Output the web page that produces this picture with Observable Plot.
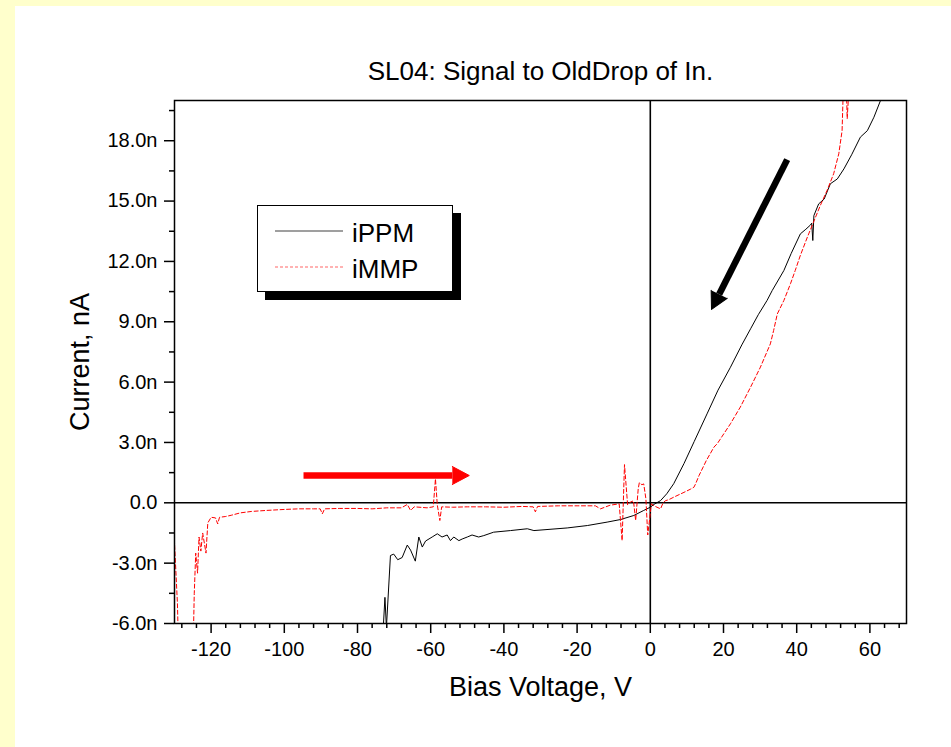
<!DOCTYPE html>
<html>
<head>
<meta charset="utf-8">
<script src="https://cdn.jsdelivr.net/npm/d3@7"></script>
<script src="https://cdn.jsdelivr.net/npm/@observablehq/plot@0.6"></script>
<style>
html, body { margin: 0; padding: 0; background: #FFFFCC; overflow: hidden; }
#page { position: absolute; left: 15px; top: 6px; width: 936px; height: 741px; background: #ffffff; }
#chart { position: absolute; left: 0; top: 0; }
#legend { position: absolute; left: 257px; top: 205px; width: 196px; height: 87px; box-sizing: border-box;
  border: 1px solid #000; background: #fff; box-shadow: 8px 8px 0 #000; }
#legend svg { position: absolute; left: 0; top: 0; }
</style>
</head>
<body>
<div id="page"></div>
<div id="chart"></div>
<div id="legend"></div>
<script>
// ---- text ----
const title = "SL04: Signal to OldDrop of In.";
const xLabel = "Bias Voltage, V";
const yLabel = "Current, nA";
const seriesNames = ["iPPM", "iMMP"];
const seriesColors = ["#000000", "#ff0000"];

// ---- ticks ----
const xTicks = [-120, -100, -80, -60, -40, -20, 0, 20, 40, 60];
const xTickLabels = ["-120", "-100", "-80", "-60", "-40", "-20", "0", "20", "40", "60"];
const xMinorTicks = [-128, -124, -116, -112, -108, -104, -96, -92, -88, -84, -76, -72, -68, -64, -56, -52, -48, -44,
  -36, -32, -28, -24, -16, -12, -8, -4, 4, 8, 12, 16, 24, 28, 32, 36, 44, 48, 52, 56, 64, 68];
const yTicks = [-6, -3, 0, 3, 6, 9, 12, 15, 18];
const yTickLabels = ["-6.0n", "-3.0n", "0.0", "3.0n", "6.0n", "9.0n", "12.0n", "15.0n", "18.0n"];
const yMinorTicks = [-4.5, -1.5, 1.5, 4.5, 7.5, 10.5, 13.5, 16.5, 19.5];

// ---- series: iPPM (black solid) ----
const iPPM_V = [-73.5, -72.5, -72.1, -71.0, -70.1, -69.0, -67.8, -66.4, -65.5, -64.2, -63.25, -62.3, -61.4, -59.6,
  -58.2, -56.9, -55.5, -54.6, -53.7, -52.3, -51.4, -50.0, -48.7, -46.9, -45.5, -42.8, -38.2, -33.6, -31.8, -22.7,
  -17.2, -11.8, -8.1, -4.5, -1.8, 0.0, 1.0, 2.8, 4.5, 6.4, 9.2, 12.0, 15.5, 18.5, 21.9, 25.0, 27.4, 29.5, 31.9,
  33.3, 36.5, 38.5, 41.0, 42.5, 43.7, 44.1, 44.4, 44.7, 46.0, 47.5, 49.2, 51.1, 52.9, 55.0, 57.4, 59.3, 61.1, 62.9, 65.0];
const iPPM_I = [-8.0, -4.7, -6.2, -2.62, -2.55, -2.83, -2.72, -2.1, -2.35, -2.9, -1.7, -2.2, -1.9, -1.7,
  -1.54, -1.7, -1.6, -1.88, -1.7, -1.88, -1.8, -1.7, -1.6, -1.7, -1.63, -1.46, -1.38, -1.29, -1.38, -1.25,
  -1.13, -0.96, -0.83, -0.63, -0.38, -0.22, -0.08, 0.11, 0.45, 0.95, 1.95, 3.05, 4.42, 5.6, 6.74, 7.85, 8.65, 9.35, 10.06,
  10.55, 11.55, 12.4, 13.37, 13.6, 13.8, 13.9, 13.04, 14.28, 14.86, 15.1, 15.86, 16.1, 16.6, 17.3, 18.18, 18.5, 19.17, 20.0, 20.8];

// ---- series: iMMP (red dashed) ----
const iMMP_V = [-131, -130, -129.2, -128.8, -125, -124.6, -124.2, -123.7, -123.3, -122.8, -122.3, -121.4, -120.9, -120,
  -118.8, -118.2, -117.7, -116, -114.5, -112, -109, -105, -100, -96, -92, -90.2, -89.6, -89, -85, -80, -76, -72, -68,
  -66.4, -65.5, -64.5, -61, -59.3, -58.7, -58.2, -57.5, -57, -54, -50, -45, -40, -35, -32, -31.4, -30.8, -25, -20,
  -15, -13.6, -11, -8.5, -7.7, -7.05, -6.2, -5.5, -4.6, -4.0, -3.3, -3.0, -2.3, -1.8, -1.2, -0.7, -0.3, 0.3, 1.0,
  2.8, 3.5, 4.2, 5.0, 6.4, 9.2, 11.0, 11.9, 12.4, 13.3, 15.3, 17.4, 18.3, 21.9, 24.6, 27.4, 30.1, 32.8, 33.7, 34.7,
  36.5, 38.3, 39.6, 41.0, 42.9, 44.7, 46.5, 48.3, 50.1, 51.5, 52.4, 52.8, 53.5, 53.8, 54.4, 55.0];
const iMMP_I = [-1.5, -2.0, -5.0, -8.0, -8.0, -4.5, -2.5, -3.5, -1.7, -2.4, -1.5, -2.5, -1.0, -0.72,
  -0.75, -1.05, -0.72, -0.68, -0.62, -0.5, -0.43, -0.38, -0.33, -0.3, -0.3, -0.3, -0.55, -0.3, -0.28, -0.28, -0.3, -0.25, -0.25,
  -0.08, -0.38, -0.2, -0.25, -0.2, 1.19, -0.1, -0.88, -0.2, -0.22, -0.2, -0.2, -0.22, -0.18, -0.2, -0.45, -0.18, -0.15, -0.15,
  -0.15, -0.3, -0.12, -0.05, -1.88, 1.9, -0.1, 0.03, 0.1, -0.88, 0.7, 1.0, 0.9, 0.94, 0.2, -1.6, -1.0, -0.05, -0.15,
  -0.3, 0.0, 0.11, 0.15, 0.28, 0.52, 0.68, 0.77, 0.95, 1.35, 2.1, 2.77, 2.94, 3.93, 4.76, 5.75, 6.75, 7.9, 8.57, 9.39,
  10.06, 10.89, 11.55, 12.3, 13.2, 14.0, 14.8, 15.53, 16.36, 17.35, 18.5, 21.0, 21.0, 19.1, 21.0, 22.0];

// ---- annotation arrows (data coordinates: tail -> head base) ----
const arrowTailV = [-94.75, 37.4];
const arrowTailI = [1.357, 17.06];
const arrowBaseV = [-54.1, 18.82];
const arrowBaseI = [1.357, 10.37];
const arrowColors = ["#ff0000", "#000000"];

// ---- build tables ----
const ppm = iPPM_V.map((v, k) => ({v, i: iPPM_I[k]}));
const mmp = iMMP_V.map((v, k) => ({v, i: iMMP_I[k]}));

const W = 951, H = 747, ML = 174, MR = 45, MT = 100, MB = 124;
const xDomain = [-130, 70], yDomain = [-6, 20];
const pxX = (W - ML - MR) / (xDomain[1] - xDomain[0]);
const pxY = (H - MT - MB) / (yDomain[1] - yDomain[0]);

const arrowMarks = [];
arrowTailV.forEach((_, k) => {
  const a = {x1: arrowTailV[k], y1: arrowTailI[k], x2: arrowBaseV[k], y2: arrowBaseI[k]};
  const ang = Math.atan2((a.x2 - a.x1) * pxX, (a.y2 - a.y1) * pxY) * 180 / Math.PI;
  arrowMarks.push(Plot.link([a], {x1: "x1", y1: "y1", x2: "x2", y2: "y2", stroke: arrowColors[k], strokeWidth: 6.5}));
  arrowMarks.push(Plot.vector([a], {x: "x2", y: "y2", rotate: ang, length: 17, r: 9, shape: "spike", anchor: "start",
    stroke: arrowColors[k], fill: arrowColors[k], fillOpacity: 1, strokeWidth: 1}));
});

const FONT = "'Liberation Sans', Arial, sans-serif";
const chart = Plot.plot({
  width: W, height: H,
  marginLeft: ML, marginRight: MR, marginTop: MT, marginBottom: MB,
  style: {background: "transparent", fontFamily: FONT, fontSize: "20px", color: "#000"},
  x: {domain: xDomain, label: null},
  y: {domain: yDomain, label: null},
  marks: [
    Plot.axisX({ticks: xMinorTicks, tickSize: 5, tickFormat: () => "", strokeWidth: 1.5, label: null}),
    Plot.axisX({ticks: xTicks, tickSize: 10, tickPadding: 8, strokeWidth: 1.5, label: null, fontSize: 20,
      tickFormat: d => xTickLabels[xTicks.indexOf(d)]}),
    Plot.axisY({ticks: yMinorTicks, tickSize: 5, tickFormat: () => "", strokeWidth: 1.5, label: null}),
    Plot.axisY({ticks: yTicks, tickSize: 10, tickPadding: 7, strokeWidth: 1.5, label: null, fontSize: 20,
      tickFormat: d => yTickLabels[yTicks.indexOf(d)]}),
    Plot.ruleX([0], {stroke: "#000", strokeWidth: 1.6}),
    Plot.ruleY([0], {stroke: "#000", strokeWidth: 1.6}),
    Plot.line(ppm, {x: "v", y: "i", stroke: seriesColors[0], strokeWidth: 1, clip: true}),
    Plot.line(mmp, {x: "v", y: "i", stroke: seriesColors[1], strokeWidth: 1, strokeDasharray: "4,2.5", clip: true}),
    ...arrowMarks,
    Plot.frame({stroke: "#000", strokeWidth: 1.5}),
    Plot.text([title], {text: d => d, frameAnchor: "top", lineAnchor: "middle", textAnchor: "middle", dy: -29, fontSize: 26}),
    Plot.text([xLabel], {text: d => d, frameAnchor: "bottom", lineAnchor: "middle", textAnchor: "middle", dy: 64, fontSize: 27}),
    Plot.text([yLabel], {text: d => d, frameAnchor: "left", lineAnchor: "middle", textAnchor: "middle", dx: -94, rotate: -90, fontSize: 27})
  ]
});
document.getElementById("chart").appendChild(chart);

// ---- legend (inside plot area) ----
const lg = d3.select("#legend").append("svg").attr("width", 194).attr("height", 85);
seriesNames.forEach((name, k) => {
  const y = 25 + k * 36;
  lg.append("line").attr("x1", 17).attr("x2", 85).attr("y1", y).attr("y2", y)
    .attr("stroke", seriesColors[k]).attr("stroke-width", 1)
    .attr("stroke-dasharray", k === 1 ? "3,2" : null)
    .attr("opacity", k === 0 ? 0.75 : 0.6);
  lg.append("text").attr("x", 94).attr("y", y + 1.5).attr("dy", "0.35em")
    .attr("font-family", FONT).attr("font-size", 26)
    .text(name);
});
</script>
</body>
</html>
